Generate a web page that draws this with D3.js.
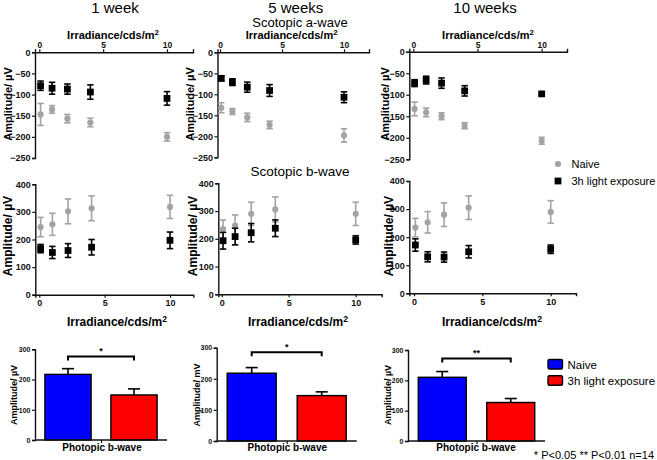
<!DOCTYPE html>
<html>
<head>
<meta charset="utf-8">
<script src="https://cdn.jsdelivr.net/npm/d3@7"></script>
<style>
  html, body { margin: 0; padding: 0; background: #fff; }
  svg { display: block; font-family: "Liberation Sans", Arial, sans-serif; }
  .tick text { font-weight: bold; }
</style>
</head>
<body>
<svg id="chart" width="657" height="460"></svg>
<script>
// ---------------- DATA ----------------
const irradiance = [0.1, 1, 2.2, 4, 10];
const weekTitles = ["1 week", "5 weeks", "10 weeks"];
const seriesNames = ["Naive", "3h light exposure"];

// Scotopic a-wave (µV), per week column
const aNaive     = [[-147, -135, -157, -166, -200], [-132, -141, -155, -173, -198], [-133, -141, -150, -172, -207]];
const aNaiveErr  = [[26, 9, 10, 10, 10], [12, 7, 10, 9, 16], [16, 10, 8, 7, 8]];
const aLight     = [[-79, -85, -87, -94, -109], [-62, -71, -83, -91, -107], [-73, -66, -73, -91, -98]];
const aLightErr  = [[11, 14, 12, 17, 16], [6, 8, 12, 14, 13], [8, 9, 12, 12, 3]];

// Scotopic b-wave (µV)
const bNaive     = [[245, 255, 302, 313, 318], [235, 248, 290, 306, 290], [234, 253, 280, 305, 290]];
const bNaiveErr  = [[35, 40, 45, 45, 42], [33, 38, 42, 45, 42], [33, 38, 42, 42, 40]];
const bLight     = [[167, 153, 160, 172, 197], [193, 208, 222, 238, 196], [172, 130, 129, 148, 157]];
const bLightErr  = [[15, 22, 25, 28, 30], [30, 30, 33, 30, 15], [22, 18, 18, 22, 15]];

// Photopic b-wave bars
const photopicNaive    = [217, 218, 210];
const photopicNaiveErr = [19, 18, 19];
const photopicLight    = [149, 146, 127];
const photopicLightErr = [20, 12, 13];
const significance     = ["*", "*", "**"];
const barYLabels       = ["Amplitude/ \u00b5V", "Amplitude/ mV", "Amplitude/ \u00b5V"];

const aTicks = [-250, -200, -150, -100, -50, 0];
const bTicks = [0, 100, 200, 300, 400];
const barTicks = [0, 100, 200, 300];
const xTicks = [0, 5, 10];
const footnote = "* P<0.05 ** P<0.01 n=14";

// ---------------- LAYOUT ----------------
const aLayout = [
  {left: 35, right: 193, x0: 39.3, x10: 167, y0: 52.3, yLow: 158, labelX: 12, irrX: 113},
  {left: 217.5, right: 369, x0: 220, x10: 344, y0: 52.3, yLow: 157.3, labelX: 194, irrX: 291.7},
  {left: 409.3, right: 567, x0: 413.3, x10: 541.7, y0: 51.7, yLow: 159.3, labelX: 389, irrX: 488}
];
const bLayout = [
  {left: 35.3, right: 193.3, x0: 39.3, x10: 170, y0: 294.7, yHigh: 184.3, labelX: 12, irrX: 117},
  {left: 218.3, right: 381.7, x0: 221.7, x10: 355.7, y0: 294.3, yHigh: 183.3, labelX: 197, irrX: 298},
  {left: 409.3, right: 576, x0: 414, x10: 550.7, y0: 293.3, yHigh: 181, labelX: 393, irrX: 492}
];
const barLayout = [
  {left: 35, right: 167, y0: 440, yTop: 349.3, labelX: 17, bracket: 276, photX: 102},
  {left: 216.7, right: 356.7, y0: 441, yTop: 347.7, labelX: 200, bracket: 285, photX: 287.3},
  {left: 408, right: 545, y0: 441, yTop: 350, labelX: 391, bracket: 272, photX: 476}
];
const titleX = [115, 295.8, 485];

const GRAY = "#a3a3a3";
const BLACK = "#000";
const BLUE = "#0000ff";
const RED = "#ff0000";

const svg = d3.select("#chart");

function styleAxis(g, fs) {
  g.selectAll(".domain").attr("stroke", "#111").attr("stroke-width", 1.4);
  g.selectAll(".tick line").attr("stroke", "#111").attr("stroke-width", 1.2);
  g.selectAll(".tick text").attr("font-size", fs).attr("font-weight", "bold").attr("fill", "#111")
    .attr("font-family", "\"Liberation Sans\", Arial, sans-serif");
}

function makeX(l) {
  const s0 = d3.scaleLinear().domain([0, 10]).range([l.x0, l.x10]);
  return d3.scaleLinear().domain([s0.invert(l.left), s0.invert(l.right)]).range([l.left, l.right]);
}

function drawSeries(g, x, y, vals, errs, color, shape) {
  const cap = 3.2;
  const eg = g.append("g");
  irradiance.forEach((xi, i) => {
    const cx = x(xi), lo = y(vals[i] - errs[i]), hi = y(vals[i] + errs[i]);
    eg.append("line").attr("x1", cx).attr("x2", cx).attr("y1", lo).attr("y2", hi)
      .attr("stroke", color).attr("stroke-width", 1.6);
    [lo, hi].forEach(yy => eg.append("line").attr("x1", cx - cap).attr("x2", cx + cap)
      .attr("y1", yy).attr("y2", yy).attr("stroke", color).attr("stroke-width", 1.6));
  });
  g.append("g").selectAll("path").data(vals).join("path")
    .attr("transform", (d, i) => `translate(${x(irradiance[i])},${y(d)})`)
    .attr("d", d3.symbol().type(shape).size(shape === d3.symbolSquare ? 46 : 30))
    .attr("fill", color);
}

function yLabel(x, yc, text, fs) {
  svg.append("text").attr("transform", `translate(${x},${yc}) rotate(-90)`)
    .attr("text-anchor", "middle").attr("font-size", fs).attr("font-weight", "bold").text(text);
}

function irrLabel(x, yb, fs) {
  const t = svg.append("text").attr("x", x).attr("y", yb).attr("text-anchor", "middle")
    .attr("font-size", fs).attr("font-weight", "bold");
  t.append("tspan").text("Irradiance/cds/m");
  t.append("tspan").attr("dy", -fs * 0.32).attr("font-size", fs * 0.72).text("2");
}

// -------- Titles --------
weekTitles.forEach((t, i) => {
  svg.append("text").attr("x", titleX[i]).attr("y", 12.5).attr("text-anchor", "middle")
    .attr("font-size", 15).text(t);
});
svg.append("text").attr("x", 300).attr("y", 26.5).attr("text-anchor", "middle").attr("font-size", 13).text("Scotopic a-wave");
svg.append("text").attr("x", 300).attr("y", 175.5).attr("text-anchor", "middle").attr("font-size", 13.5).text("Scotopic b-wave");

// -------- a-wave panels --------
aLayout.forEach((l, c) => {
  const x = makeX(l);
  const y = d3.scaleLinear().domain([0, -250]).range([l.y0, l.yLow]);
  const g = svg.append("g");
  const ax = g.append("g").attr("transform", `translate(0,${l.y0})`)
    .call(d3.axisTop(x).tickValues(xTicks).tickSize(3).tickPadding(1).tickFormat(d3.format("d")));
  styleAxis(ax, 8.5);
  const ay = g.append("g").attr("transform", `translate(${l.left},0)`)
    .call(d3.axisLeft(y).tickValues(aTicks).tickSize(3).tickPadding(1.5).tickFormat(d3.format("d")));
  styleAxis(ay, 9);
  drawSeries(g, x, y, aNaive[c], aNaiveErr[c], GRAY, d3.symbolCircle);
  drawSeries(g, x, y, aLight[c], aLightErr[c], BLACK, d3.symbolSquare);
  yLabel(l.labelX, 104, "Amplitude/ \u00b5V", 11);
  irrLabel(l.irrX, 39, 11);
});

// -------- b-wave panels --------
bLayout.forEach((l, c) => {
  const x = makeX(l);
  const y = d3.scaleLinear().domain([0, 400]).range([l.y0, l.yHigh]);
  const g = svg.append("g");
  const ax = g.append("g").attr("transform", `translate(0,${l.y0})`)
    .call(d3.axisBottom(x).tickValues(xTicks).tickSize(3).tickPadding(2).tickFormat(d3.format("d")));
  styleAxis(ax, 9);
  const ay = g.append("g").attr("transform", `translate(${l.left},0)`)
    .call(d3.axisLeft(y).tickValues(bTicks).tickSize(3).tickPadding(1.5).tickFormat(d3.format("d")));
  styleAxis(ay, 9);
  drawSeries(g, x, y, bNaive[c], bNaiveErr[c], GRAY, d3.symbolCircle);
  drawSeries(g, x, y, bLight[c], bLightErr[c], BLACK, d3.symbolSquare);
  yLabel(l.labelX, 236, "Amplitude/ \u00b5V", 12);
  irrLabel(l.irrX, 326, 12);
});

// scatter legend
const lg = svg.append("g");
lg.append("path").attr("transform", "translate(558,164)").attr("d", d3.symbol().type(d3.symbolCircle).size(30)).attr("fill", GRAY);
lg.append("path").attr("transform", "translate(558,181)").attr("d", d3.symbol().type(d3.symbolSquare).size(46)).attr("fill", BLACK);
lg.append("text").attr("x", 571.5).attr("y", 167.5).attr("font-size", 11).text(seriesNames[0]);
lg.append("text").attr("x", 571.5).attr("y", 184.5).attr("font-size", 11).text(seriesNames[1]);

// -------- Photopic bar panels --------
barLayout.forEach((l, c) => {
  const x = d3.scaleBand().domain(seriesNames).range([l.left, l.right]).paddingInner(0.3).paddingOuter(0.15);
  const y = d3.scaleLinear().domain([0, 300]).range([l.y0, l.yTop]);
  const g = svg.append("g");
  const vals = [photopicNaive[c], photopicLight[c]];
  const errs = [photopicNaiveErr[c], photopicLightErr[c]];
  const cols = [BLUE, RED];
  // error bars (upward only)
  seriesNames.forEach((s, i) => {
    const cx = x(s) + x.bandwidth() / 2;
    g.append("line").attr("x1", cx).attr("x2", cx).attr("y1", y(vals[i])).attr("y2", y(vals[i] + errs[i]))
      .attr("stroke", "#000").attr("stroke-width", 1.6);
    g.append("line").attr("x1", cx - 6).attr("x2", cx + 6).attr("y1", y(vals[i] + errs[i])).attr("y2", y(vals[i] + errs[i]))
      .attr("stroke", "#000").attr("stroke-width", 1.6);
  });
  g.selectAll("rect").data(vals).join("rect")
    .attr("x", (d, i) => x(seriesNames[i])).attr("width", x.bandwidth())
    .attr("y", d => y(d)).attr("height", d => l.y0 - y(d))
    .attr("fill", (d, i) => cols[i]).attr("stroke", "#000").attr("stroke-width", 1.4);
  const xc = d3.scaleLinear().domain([0, 1]).range([l.left, l.right]);
  const ax = g.append("g").attr("transform", `translate(0,${l.y0})`)
    .call(d3.axisBottom(xc).tickValues([0.5]).tickSize(3).tickFormat(""));
  styleAxis(ax, 7);
  ax.select(".domain").attr("d", `M${l.left},0H${l.right}`);
  const ay = g.append("g").attr("transform", `translate(${l.left},0)`)
    .call(d3.axisLeft(y).tickValues(barTicks).tickSize(3).tickPadding(1.5).tickFormat(d3.format("d")));
  styleAxis(ay, 7);
  // significance bracket
  const c1 = x(seriesNames[0]) + x.bandwidth() / 2, c2 = x(seriesNames[1]) + x.bandwidth() / 2;
  const by = y(l.bracket);
  g.append("path").attr("d", `M${c1},${by + 4}V${by}H${c2}V${by + 4}`)
    .attr("fill", "none").attr("stroke", "#000").attr("stroke-width", 2);
  g.append("text").attr("x", (c1 + c2) / 2).attr("y", by - 2.5).attr("text-anchor", "middle")
    .attr("font-size", 9).attr("font-weight", "bold").text(significance[c]);
  yLabel(l.labelX, 395, barYLabels[c], 9);
  svg.append("text").attr("x", l.photX).attr("y", 451).attr("text-anchor", "middle")
    .attr("font-size", 10).attr("font-weight", "bold").text("Photopic b-wave");
});

// bar legend
const bl = svg.append("g");
[BLUE, RED].forEach((col, i) => {
  bl.append("rect").attr("x", 548).attr("y", 359.5 + i * 16.3).attr("width", 14.5).attr("height", 9.5)
    .attr("rx", 1.5).attr("fill", col).attr("stroke", "#000").attr("stroke-width", 1.4);
  bl.append("text").attr("x", 567.5).attr("y", 368.5 + i * 16).attr("font-size", 11.5).text(seriesNames[i]);
});

svg.append("text").attr("x", 654).attr("y", 459).attr("text-anchor", "end").attr("font-size", 11).text(footnote);
</script>
</body>
</html>
